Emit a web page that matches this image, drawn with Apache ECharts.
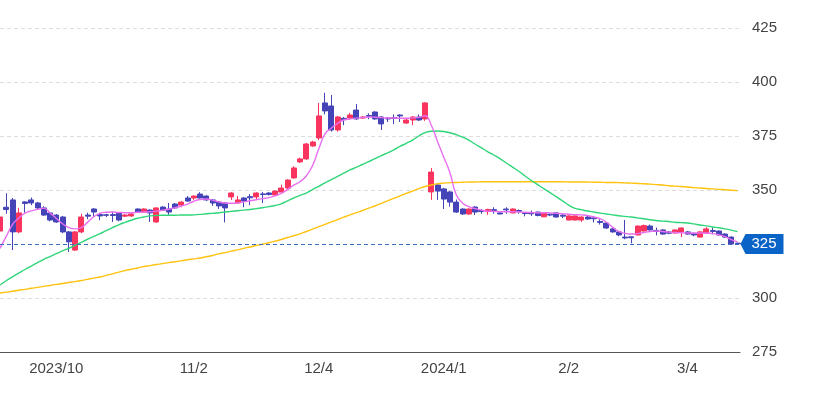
<!DOCTYPE html>
<html><head><meta charset="utf-8">
<script src="https://cdn.jsdelivr.net/npm/echarts@6/dist/echarts.min.js"></script>
<style>html,body{margin:0;padding:0;background:#fff}#c{width:818px;height:393px}</style>
</head><body><div id="c"></div>
<script>
// trading days (categories)
const dates = [
'2023/09/19','2023/09/20','2023/09/21','2023/09/22','2023/09/25','2023/09/26','2023/09/27','2023/09/28','2023/09/29',
'2023/10/02','2023/10/03','2023/10/04','2023/10/05','2023/10/06','2023/10/10','2023/10/11','2023/10/12','2023/10/13','2023/10/16','2023/10/17','2023/10/18','2023/10/19','2023/10/20','2023/10/23','2023/10/24','2023/10/25','2023/10/26','2023/10/27','2023/10/30','2023/10/31',
'2023/11/01','2023/11/02','2023/11/06','2023/11/07','2023/11/08','2023/11/09','2023/11/10','2023/11/13','2023/11/14','2023/11/15','2023/11/16','2023/11/17','2023/11/20','2023/11/21','2023/11/22','2023/11/24','2023/11/27','2023/11/28','2023/11/29','2023/11/30',
'2023/12/01','2023/12/04','2023/12/05','2023/12/06','2023/12/07','2023/12/08','2023/12/11','2023/12/12','2023/12/13','2023/12/14','2023/12/15','2023/12/18','2023/12/19','2023/12/20','2023/12/21','2023/12/22','2023/12/25','2023/12/26','2023/12/27','2023/12/28','2023/12/29',
'2024/01/04','2024/01/05','2024/01/09','2024/01/10','2024/01/11','2024/01/12','2024/01/15','2024/01/16','2024/01/17','2024/01/18','2024/01/19','2024/01/22','2024/01/23','2024/01/24','2024/01/25','2024/01/26','2024/01/29','2024/01/30','2024/01/31',
'2024/02/01','2024/02/02','2024/02/05','2024/02/06','2024/02/07','2024/02/08','2024/02/09','2024/02/13','2024/02/14','2024/02/15','2024/02/16','2024/02/19','2024/02/20','2024/02/21','2024/02/22','2024/02/26','2024/02/27','2024/02/28','2024/02/29',
'2024/03/01','2024/03/04','2024/03/05','2024/03/06','2024/03/07','2024/03/08','2024/03/11','2024/03/12','2024/03/13','2024/03/14'
];
// [open, close, low, high]
const ohlc = [
[331,337.5,330,339],[342,341,339,348.5],[345.4,330.6,322.2,346.3],[330.6,339.4,330,341.7],[344.5,343.8,339.5,344.8],
[345.4,344,343,346.5],[344,341.7,341,344.5],[341.7,338.4,338,342.5],[339.4,336.1,335.5,339.8],[338.4,335.2,334.8,338.8],
[337.5,330.6,330,338],[330.6,326,321.3,331],[322.2,330.6,321.8,331],[330.6,337.5,330,339],[338.4,337.9,336.5,339.5],
[341.2,339.8,337.5,341.7],[338.6,338,336,339.5],[338.5,338.3,337.5,339],[338.6,338.2,335.2,339.8],[339.4,336.1,335.5,339.8],
[337.9,338.4,337.5,338.8],[338,338.9,337.5,339.2],[341.2,339.8,339.5,341.5],[339.8,341.2,339.5,341.5],[340.7,339.4,335.2,341],
[335.2,341.7,334.8,342],[342.1,340.7,340.3,342.5],[341.2,339.8,338.4,344],[343.5,341.7,341.2,344],[343,344.4,342,344.8],
[346.3,344.9,344.5,347.2],[346.3,347.2,345.4,347.5],[348.1,346.3,346,349],[347.2,345.4,345,347.6],[345.4,344,342.7,345.8],
[344.4,342.6,341.2,344.8],[344,341.7,335,344.5],[346.8,348.6,345.4,349],[344,345.4,343.7,347.2],[346.3,344.9,342,346.7],
[346.9,346.4,343,348.1],[346.8,348.6,345.4,349],[348.2,347.9,344,349.1],[348.6,347.9,347.5,349],[347.7,349.5,347.5,349.8],
[349.1,350.9,348.8,352.5],[350.9,354.6,350.5,355],[355.6,360.2,355.2,361],[363,364.4,362.5,365],[364.4,371.3,364,371.8],
[370.4,372.2,370,372.8],[374.1,384.3,373,390.3],[390.3,386.6,385,395],[388.9,377.8,377,394],[377.8,383.8,377,384.3],
[383.2,382.6,380,383.8],[383.3,384.7,383,385.7],[387,382.9,382.5,389.8],[383.3,383.8,383,384.2],[384.5,384.1,382.8,385.5],
[386.1,382.9,382.5,386.5],[383.8,380.6,377.8,384.2],[383.3,382.9,381.5,383.8],[383.5,383.1,380.5,385],[384.7,384.3,381.5,385],
[381,382.4,380.6,382.8],[382.4,383.8,380,384.2],[383.8,382.4,382,385],[382.9,390.3,382,390.6],[349.1,358.3,345.4,360.2],
[352.3,349.5,345.4,352.8],[350.5,345.8,341.2,351],[349.1,344.4,342.3,349.5],[344.4,339.8,339.4,345.6],[341.2,338.9,338.5,341.5],
[338.9,341.2,338.5,341.5],[342.1,339.8,338.4,342.5],[340.5,340,339,341.2],[340,341,338.5,341.3],[340.9,340.5,339,342],
[339.4,338.9,338.7,339.6],[341.2,340.8,339,342],[339.4,341.2,339.2,341.5],[340.5,340.1,339,341],[339.5,339.1,337.8,339.8],
[339.4,339,338,340.5],[339.8,338.2,337.8,340],[337.6,339.2,337.4,339.5],[338.8,338.4,337.9,339],[339.4,337.5,337.2,339.7],
[338.3,337.9,337,339],[336.1,338,336,338.3],[336.1,338,335.8,338.3],[336.1,337.5,335.2,337.8],[337.5,336.6,336.2,338],
[337.1,336.7,335,338],[335.4,335,334,336.5],[334.7,332.4,332,335],[332,330.6,330.2,332.6],[330.6,329.2,328.6,331],
[328.2,327.8,327.2,336.1],[328.3,327.9,325.3,328.5],[329.2,333.3,329,333.6],[331,333.5,330.8,334],[333.3,331.5,331.2,334],
[331.3,330.8,329,332.6],[331.5,329.6,329.3,331.8],[330.6,330,329.5,331],[330.1,331.5,329.8,331.8],[330.6,332.4,328.2,332.7],
[330.6,329.6,329.3,331],[329.7,329.2,328.6,330.2],[328.2,330.6,328,330.9],[330.1,332,329.8,332.8],[331.2,330.8,329.5,332.6],
[331,329.2,328.9,331.3],[329.6,328.2,327.8,330],[328.2,325,324.8,328.5],[325.4,325.1,324.9,325.6]
];
const maShort = [
323,328.5,334,337,339.3,340.3,341,341.6,339.4,336.8,
334.4,332.6,332,332.6,335,337.6,339.2,339.7,339.8,339.6,
339.5,339.5,339.7,339.8,339.9,340.2,340.6,341.1,341.8,342.6,
343.5,344.8,345.6,345.8,345.3,344.5,344,343.9,344,344.5,
345,345.5,346,346.5,347.3,348.4,350.2,352.3,353.8,356.5,
361.2,369,376,378.6,380.8,382.4,382.9,383.3,383.5,383.8,
383.7,383.5,383.3,383.3,383.2,383.2,383.4,383.6,384.4,380,
372.5,365.2,357.9,347.8,344,342.3,341.4,340.7,340.2,340.1,
340,339.9,339.9,339.8,339.7,339.6,339.5,339.5,339.4,339.2,
339,338.8,338.6,338.5,338.2,337.5,336.7,335.2,332.8,330.8,
330,329.6,329.8,330.3,330.8,331,330.8,330.5,330.3,330.2,
330.1,330.1,330.1,330.1,329.8,329.3,328.4,327,326
];
const maMid = [
306,308,309.8,311.5,313.2,314.8,316.4,317.9,319.2,320.5,
321.8,323,324.4,325.8,327.2,328.5,329.8,331.2,332.6,333.9,
335,336,336.9,337.5,338,338.2,338.3,338.3,338.3,338.4,
338.4,338.5,338.7,339,339.2,339.5,339.8,340.1,340.4,340.7,
341,341.4,341.8,342.3,342.8,343.6,345,346.3,347.5,348.6,
350.2,351.7,353.3,354.8,356.3,357.8,359.3,360.5,361.8,363.1,
364.5,365.9,367.2,368.6,370.2,371.6,373.1,375,376.6,377.2,
377.3,377.1,376.5,375.6,374.5,373.1,371.3,369.6,367.8,366.2,
364.5,362.5,360.6,358.7,356.5,354.4,352.5,350.6,348.8,346.9,
345,343,341.5,340.9,340.3,339.8,339.3,338.9,338.5,338.1,
337.8,337.5,337.1,336.7,336.2,335.9,335.6,335.4,335.1,334.9,
334.7,334.3,333.8,333.4,332.9,332.5,332,331.4,330.7
];
const maLong = [
302.3,302.7,303.1,303.6,304,304.5,304.9,305.4,305.8,306.3,
306.7,307.2,307.6,308.1,308.6,309.2,309.7,310.5,311.2,312,
312.7,313.3,313.9,314.5,315,315.5,315.9,316.4,316.8,317.2,
317.7,318.1,318.5,319.1,319.7,320.4,321,321.7,322.3,323,
323.6,324.3,324.9,325.6,326.3,327.1,328,328.8,329.7,330.8,
331.9,333,334.1,335.2,336.3,337.4,338.5,339.5,340.5,341.6,
342.6,343.8,345,346.1,347.3,348.4,349.5,350.6,351.6,352.3,
352.9,353.2,353.4,353.5,353.6,353.7,353.7,353.8,353.8,353.8,
353.8,353.8,353.8,353.8,353.8,353.8,353.8,353.8,353.8,353.8,
353.8,353.7,353.7,353.7,353.7,353.6,353.6,353.5,353.5,353.4,
353.3,353.2,353,352.9,352.7,352.5,352.3,352,351.8,351.6,
351.4,351.1,350.9,350.7,350.5,350.3,350.1,349.9,349.7
];
const tickIndex = [9, 31, 51, 71, 91, 110];
const tickLabels = ['2023/10', '11/2', '12/4', '2024/1', '2/2', '3/4'];
const yTicks = [275, 300, 325, 350, 375, 400, 425];
const lastPrice = 325;

const UP = '#f9345e', DOWN = '#4444b8';
const font = 'Arial, "Liberation Sans", sans-serif';
const xMax = ohlc.length - 1 + 0.4;

const chart = echarts.init(document.getElementById('c'), null, {renderer: 'canvas'});
chart.setOption({
  animation: false,
  grid: {left: 0, right: 78, top: 28, bottom: 41},
  xAxis: {
    type: 'value', min: 0, max: xMax,
    axisLine: {show: true, lineStyle: {color: '#555', width: 1}},
    axisTick: {show: false},
    splitLine: {show: false},
    axisLabel: {
      customValues: tickIndex,
      formatter: v => tickLabels[tickIndex.indexOf(Math.round(v))] || '',
      color: '#444', fontSize: 15, fontFamily: font, margin: 9
    }
  },
  yAxis: {
    type: 'value', position: 'right', min: yTicks[0], max: yTicks[yTicks.length - 1], interval: 25,
    axisLine: {show: false}, axisTick: {show: false},
    splitLine: {show: true, lineStyle: {color: '#dcdcdc', type: [4, 3], width: 1}},
    axisLabel: {color: '#444', fontSize: 15, fontFamily: font, margin: 12}
  },
  series: [
    {
      type: 'candlestick',
      encode: {x: 0, y: [1, 2, 3, 4]},
      data: ohlc.map((r, i) => [i, r[0], r[1], r[2], r[3]]),
      barWidth: 5.5,
      itemStyle: {color: UP, color0: DOWN, borderColor: UP, borderColor0: DOWN, borderWidth: 1},
      markLine: {
        silent: true, symbol: 'none',
        lineStyle: {color: '#3a6cc0', type: [4, 3], width: 1},
        label: {show: false},
        data: [{yAxis: lastPrice}]
      },
      markPoint: {
        silent: true,
        symbol: 'path://M0,10 L5,0 L43,0 L43,20 L5,20 Z',
        symbolSize: [43, 20],
        symbolOffset: [22, 0],
        itemStyle: {color: '#0a63c6'},
        label: {show: true, position: 'inside', formatter: String(lastPrice), color: '#fff', fontSize: 15, fontFamily: font, offset: [2, 0]},
        data: [{coord: [xMax, lastPrice]}]
      }
    },
    {type: 'line', data: maLong.map((v, i) => [i, v]), showSymbol: false, smooth: true,
     lineStyle: {color: '#ffc20e', width: 1.4}, z: 3},
    {type: 'line', data: maMid.map((v, i) => [i, v]), showSymbol: false, smooth: true,
     lineStyle: {color: '#2fd679', width: 1.4}, z: 3},
    {type: 'line', data: maShort.map((v, i) => [i, v]), showSymbol: false, smooth: true,
     lineStyle: {color: '#e96ff0', width: 1.4}, z: 3}
  ]
});
</script>
</body></html>
